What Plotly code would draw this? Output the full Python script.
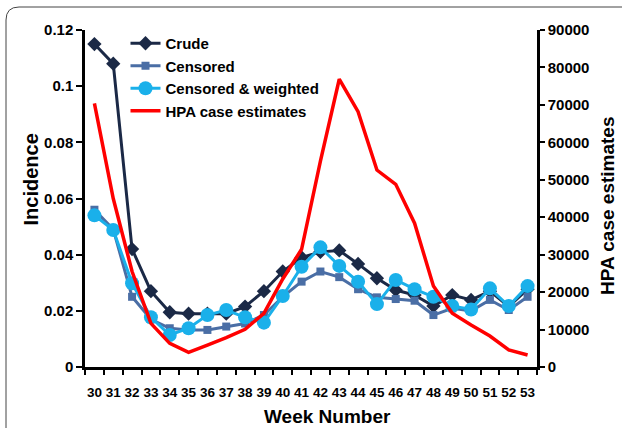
import plotly.graph_objects as go

weeks = [str(w) for w in range(30, 54)]
crude = [0.115, 0.108, 0.042, 0.027, 0.0195, 0.019, 0.019, 0.019, 0.0215, 0.027, 0.034, 0.039,
         0.041, 0.0415, 0.0367, 0.0316, 0.0274, 0.0256, 0.0217, 0.0256, 0.0239, 0.027, 0.0215, 0.0277]
censored = [0.056, 0.049, 0.025, 0.017, 0.0138, 0.0132, 0.0132, 0.0144, 0.0155, 0.0185, 0.025, 0.0304,
            0.034, 0.032, 0.0277, 0.0248, 0.0242, 0.0236, 0.0185, 0.0209, 0.020, 0.0239, 0.0203, 0.025]
weighted = [0.054, 0.0488, 0.0298, 0.0177, 0.0114, 0.0138, 0.0185, 0.0203, 0.0177, 0.0158, 0.0253, 0.0357,
            0.0426, 0.036, 0.0304, 0.0224, 0.031, 0.0277, 0.025, 0.0217, 0.0205, 0.028, 0.0217, 0.0288]
hpa = [70400, 45000, 25500, 11660, 6320, 3920, 5870, 7820, 10060, 14340, 23500, 31430,
       55000, 76850, 68200, 52600, 48800, 38400, 21630, 14340, 11220, 8280, 4540, 3200]

FONT = "Liberation Sans, Arial, sans-serif"
W, H = 622, 428
L, R, T, B = 85, 537, 30, 367


def px(x):
    return (x - L) / (R - L)


def py(y):
    return (B - y) / (B - T)


fig = go.Figure()
fig.add_trace(go.Scatter(x=weeks, y=crude, name="Crude", mode="lines+markers",
                         line=dict(color="#1b2946", width=3),
                         marker=dict(symbol="diamond", size=11, color="#1b2946")))
fig.add_trace(go.Scatter(x=weeks, y=censored, name="Censored", mode="lines+markers",
                         line=dict(color="#4a6ea5", width=3),
                         marker=dict(symbol="square", size=8, color="#4a6ea5")))
fig.add_trace(go.Scatter(x=weeks, y=weighted, name="Censored & weighted", mode="lines+markers",
                         line=dict(color="#1ab0ea", width=3),
                         marker=dict(symbol="circle", size=14, color="#1ab0ea")))
fig.add_trace(go.Scatter(x=weeks, y=hpa, name="HPA case estimates", mode="lines",
                         line=dict(color="#ff0000", width=3.5), yaxis="y2"))

fig.update_layout(
    width=W, height=H, autosize=False,
    margin=dict(l=L, r=W - R, t=T, b=H - B),
    paper_bgcolor="white", plot_bgcolor="white",
    font=dict(family=FONT, color="black"),
    showlegend=True,
    legend=dict(x=px(125.5), y=py(27), xanchor="left", yanchor="top",
                bgcolor="rgba(0,0,0,0)", font=dict(size=15, weight="bold", color="black"),
                tracegroupgap=0),
    xaxis=dict(type="category", range=[-0.5, 23.5], showgrid=False, zeroline=False,
               showline=True, linecolor="black", linewidth=2.5,
               ticks="outside", tickson="boundaries", ticklen=5, tickwidth=2, tickcolor="black",
               tickangle=0, automargin=False, ticklabelstandoff=11,
               tickfont=dict(size=13.5, weight="bold", color="black")),
    yaxis=dict(range=[0, 0.12], dtick=0.02, showgrid=False, zeroline=False,
               showline=True, linecolor="black", linewidth=2.5, automargin=False,
               ticks="outside", ticklen=6, tickwidth=2, tickcolor="black",
               tickfont=dict(size=15, weight="bold", color="black")),
    yaxis2=dict(range=[0, 90000], dtick=10000, tickformat="d", overlaying="y", side="right",
                showgrid=False, zeroline=False, automargin=False,
                showline=True, linecolor="black", linewidth=2.5,
                ticks="outside", ticklen=5, tickwidth=2, tickcolor="black",
                tickfont=dict(size=15, weight="bold", color="black")),
    annotations=[
        dict(text="Incidence", x=px(30.5), y=py(180), xref="paper", yref="paper",
             xanchor="center", yanchor="middle",
             showarrow=False, textangle=-90, font=dict(size=20, weight="bold", color="black")),
        dict(text="HPA case estimates", x=px(607), y=py(206), xref="paper", yref="paper",
             xanchor="center", yanchor="middle",
             showarrow=False, textangle=-90, font=dict(size=19, weight="bold", color="black")),
        dict(text="Week Number", x=px(327), y=py(416), xref="paper", yref="paper",
             xanchor="center", yanchor="middle",
             showarrow=False, font=dict(size=19, weight="bold", color="black")),
    ],
    shapes=[
        dict(type="path", xref="paper", yref="paper",
             path=f"M{px(6)},{py(430)} L{px(6)},{py(20)} Q{px(6)},{py(7)} {px(19)},{py(7)} L{px(625)},{py(7)}",
             line=dict(color="#444444", width=1)),
    ],
)

fig.write_html("out.html", config={"displayModeBar": False},
               post_script="document.body.style.margin='0px';document.body.style.padding='0px';")
